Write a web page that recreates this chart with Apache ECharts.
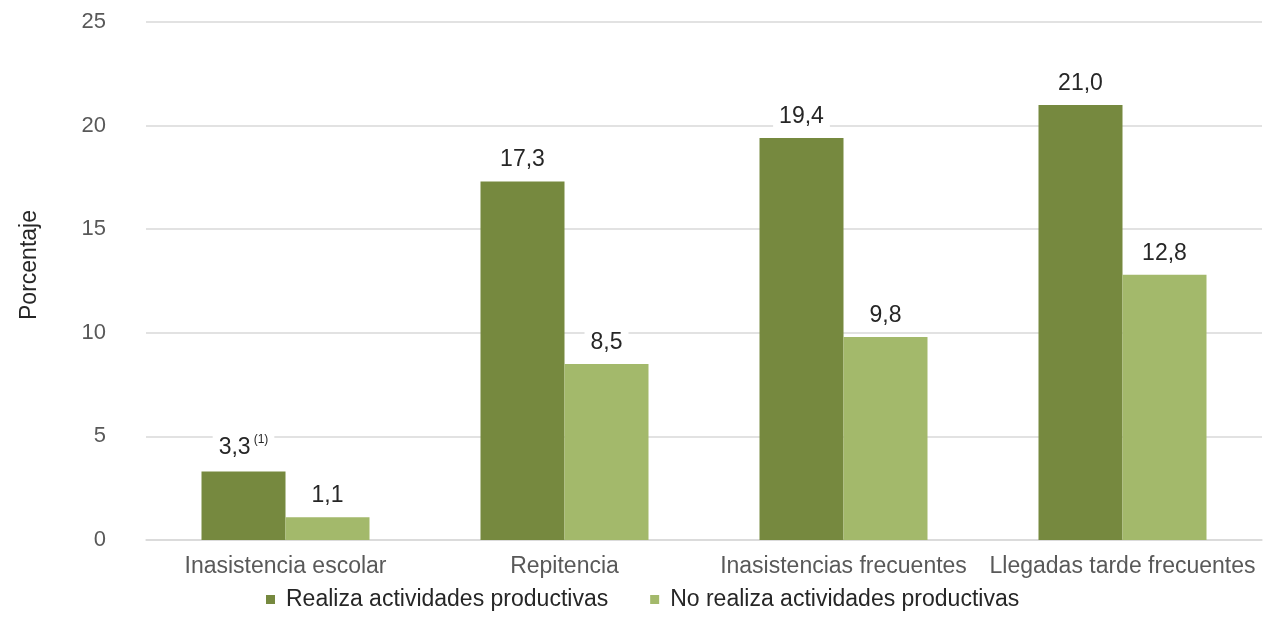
<!DOCTYPE html>
<html>
<head>
<meta charset="utf-8">
<script src="https://cdn.jsdelivr.net/npm/echarts@6/dist/echarts.min.js"></script>
<style>
html,body{margin:0;padding:0;background:#fff;}
#c{width:1269px;height:618px;}
</style>
</head>
<body>
<div id="c"></div>
<script>
const categories = ['Inasistencia escolar', 'Repitencia', 'Inasistencias frecuentes', 'Llegadas tarde frecuentes'];
const seriesNames = ['Realiza actividades productivas', 'No realiza actividades productivas'];
const realiza = [3.3, 17.3, 19.4, 21.0];
const noRealiza = [1.1, 8.5, 9.8, 12.8];
const notes = ['(1)', '', '', ''];
const yTicks = [0, 5, 10, 15, 20, 25];

const FONT = '"Liberation Sans", Arial, sans-serif';
const chart = echarts.init(document.getElementById('c'));

function fmt(v) { return v.toFixed(1).replace('.', ','); }

function labelFor(withNotes) {
  return {
    show: true,
    position: 'top',
    distance: 8,
    fontFamily: FONT,
    fontSize: 23,
    color: '#262626',
    backgroundColor: '#ffffff',
    padding: [2, 6],
    formatter: function (p) {
      const n = withNotes ? notes[p.dataIndex] : '';
      return n ? fmt(p.value) + '{sup|' + n + '}' : fmt(p.value);
    },
    rich: {
      sup: { fontFamily: FONT, fontSize: 12, color: '#262626', verticalAlign: 'top', padding: [0, 0, 16, 3] }
    }
  };
}

chart.setOption({
  animation: false,
  backgroundColor: '#ffffff',
  grid: { left: 146, right: 7, top: 22, bottom: 78, containLabel: false, outerBoundsMode: 'none' },
  legend: {
    top: 588,
    left: 266,
    padding: 0,
    icon: 'rect',
    itemWidth: 9,
    itemHeight: 9,
    itemGap: 42,
    textStyle: { fontFamily: FONT, fontSize: 23, color: '#262626', padding: [0, 0, 0, 6] },
    data: seriesNames
  },
  xAxis: {
    type: 'category',
    data: categories,
    axisLine: { show: true, lineStyle: { color: '#d9d9d9', width: 1.5 } },
    axisTick: { show: false },
    axisLabel: { fontFamily: FONT, fontSize: 23, color: '#595959', margin: 15, interval: 0 }
  },
  yAxis: {
    type: 'value',
    min: 0,
    max: 25,
    interval: 5,
    name: 'Porcentaje',
    nameLocation: 'middle',
    nameRotate: 90,
    nameGap: 105,
    nameTextStyle: { fontFamily: FONT, fontSize: 23, color: '#262626', padding: [0, 0, 0, 32] },
    axisLine: { show: false },
    axisTick: { show: false },
    axisLabel: {
      fontFamily: FONT, fontSize: 22, color: '#595959', margin: 40,
      formatter: function (v) { return yTicks.indexOf(v) >= 0 ? String(v) : ''; }
    },
    splitLine: { show: true, lineStyle: { color: '#d9d9d9', width: 1.5 } }
  },
  series: [
    {
      name: seriesNames[0],
      type: 'bar',
      data: realiza,
      barWidth: 84,
      barGap: '0%',
      itemStyle: { color: '#76893f' },
      label: labelFor(true)
    },
    {
      name: seriesNames[1],
      type: 'bar',
      data: noRealiza,
      barWidth: 84,
      itemStyle: { color: '#a3b96b' },
      label: labelFor(false)
    }
  ]
});
</script>
</body>
</html>
